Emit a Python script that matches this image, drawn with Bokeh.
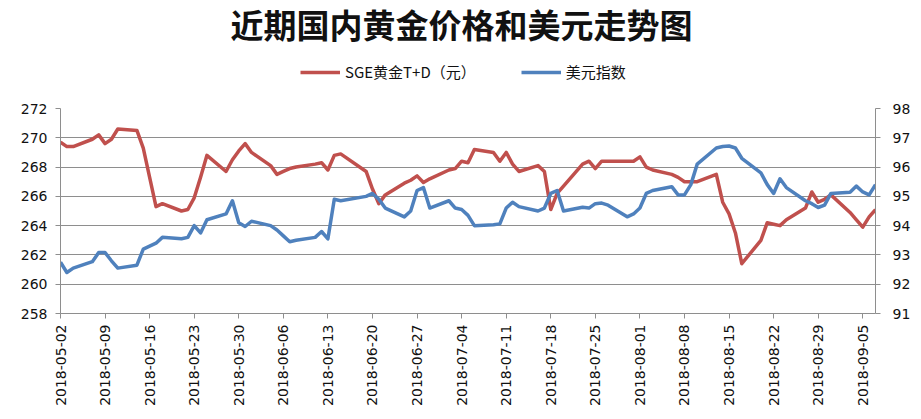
import math
import pandas as pd
from bokeh.plotting import figure
from bokeh.layouts import column
from bokeh.models import (Range1d, LinearAxis, FixedTicker, DatetimeTickFormatter,
                          Legend, LegendItem, ColumnDataSource, Label)
from bokeh.embed import file_html
from bokeh.resources import INLINE

# ---------------- data ----------------
dates = [
    "2018-05-02", "2018-05-03", "2018-05-04",
    "2018-05-07", "2018-05-08", "2018-05-09", "2018-05-10", "2018-05-11",
    "2018-05-14", "2018-05-15", "2018-05-16", "2018-05-17", "2018-05-18",
    "2018-05-21", "2018-05-22", "2018-05-23", "2018-05-24", "2018-05-25",
    "2018-05-28", "2018-05-29", "2018-05-30", "2018-05-31", "2018-06-01",
    "2018-06-04", "2018-06-05", "2018-06-06", "2018-06-07", "2018-06-08",
    "2018-06-11", "2018-06-12", "2018-06-13", "2018-06-14", "2018-06-15",
    "2018-06-19", "2018-06-20", "2018-06-21", "2018-06-22",
    "2018-06-25", "2018-06-26", "2018-06-27", "2018-06-28", "2018-06-29",
    "2018-07-02", "2018-07-03", "2018-07-04", "2018-07-05", "2018-07-06",
    "2018-07-09", "2018-07-10", "2018-07-11", "2018-07-12", "2018-07-13",
    "2018-07-16", "2018-07-17", "2018-07-18", "2018-07-19", "2018-07-20",
    "2018-07-23", "2018-07-24", "2018-07-25", "2018-07-26", "2018-07-27",
    "2018-07-30", "2018-07-31", "2018-08-01", "2018-08-02", "2018-08-03",
    "2018-08-06", "2018-08-07", "2018-08-08", "2018-08-09", "2018-08-10",
    "2018-08-13", "2018-08-14", "2018-08-15", "2018-08-16", "2018-08-17",
    "2018-08-20", "2018-08-21", "2018-08-22", "2018-08-23", "2018-08-24",
    "2018-08-27", "2018-08-28", "2018-08-29", "2018-08-30", "2018-08-31",
    "2018-09-03", "2018-09-04", "2018-09-05", "2018-09-06", "2018-09-07",
]

gold = [
    269.7, 269.4, 269.4,
    269.9, 270.2, 269.6, 269.9, 270.6,
    270.5, 269.3, 267.3, 265.3, 265.5,
    265.0, 265.1, 265.9, 267.3, 268.8,
    267.7, 268.5, 269.1, 269.6, 269.0,
    268.1, 267.5, 267.7, 267.9, 268.0,
    268.2, 268.3, 267.8, 268.8, 268.9,
    267.7, 266.5, 265.5, 266.1,
    266.9, 267.1, 267.4, 266.95, 267.2,
    267.8, 267.9, 268.4, 268.3, 269.2,
    269.0, 268.4, 269.0, 268.2, 267.7,
    268.1, 267.7, 265.1, 266.2, 266.7,
    268.2, 268.4, 267.9, 268.4, 268.4,
    268.4, 268.4, 268.7, 268.0, 267.8,
    267.5, 267.3, 267.0, 267.0, 267.0,
    267.5, 265.6, 264.8, 263.5, 261.4,
    263.0, 264.2, 264.1, 264.0, 264.4,
    265.2, 266.3, 265.6, 265.8, 266.1,
    264.9, 264.4, 263.9, 264.6, 265.1,
]

usd = [
    92.75, 92.4, 92.55,
    92.77, 93.08, 93.08, 92.8, 92.55,
    92.65, 93.2, 93.3, 93.4, 93.6,
    93.55, 93.6, 94.0, 93.75, 94.2,
    94.4, 94.85, 94.1, 93.97, 94.15,
    94.0, 93.85, 93.65, 93.45, 93.5,
    93.6, 93.8, 93.55, 94.9, 94.85,
    95.0, 95.1, 94.9, 94.6,
    94.3, 94.5, 95.2, 95.3, 94.6,
    94.85, 94.6, 94.55, 94.35, 94.0,
    94.03, 94.06, 94.6, 94.8, 94.65,
    94.5, 94.6, 95.1, 95.2, 94.5,
    94.63, 94.6, 94.75, 94.77, 94.7,
    94.3, 94.4, 94.6, 95.1, 95.2,
    95.33, 95.05, 95.05, 95.4, 96.1,
    96.65, 96.7, 96.72, 96.65, 96.3,
    95.8, 95.4, 95.1, 95.6, 95.3,
    94.85, 94.75, 94.62, 94.7, 95.1,
    95.14, 95.35, 95.15, 95.05, 95.4,
]

tick_labels = ["2018-05-02", "2018-05-09", "2018-05-16", "2018-05-23", "2018-05-30",
               "2018-06-06", "2018-06-13", "2018-06-20", "2018-06-27", "2018-07-04",
               "2018-07-11", "2018-07-18", "2018-07-25", "2018-08-01", "2018-08-08",
               "2018-08-15", "2018-08-22", "2018-08-29", "2018-09-05"]
left_ticks = [258, 260, 262, 264, 266, 268, 270, 272]
right_ticks = [91, 92, 93, 94, 95, 96, 97, 98]

title_text = "近期国内黄金价格和美元走势图"
gold_label = "SGE黄金T+D（元）"
usd_label = "美元指数"

# ---------------- styling ----------------
RED = "#C0504D"
BLUE = "#4F81BD"
GRID = "#8E8E8E"
FONT = "DejaVu Sans"
CJK = "Noto Sans CJK SC"
W = 921
HEAD_H = 98
MAIN_H = 419 - HEAD_H
NAN = float("nan")

# ---------------- header (title + legend) ----------------
head = figure(width=W, height=HEAD_H, x_range=Range1d(0, 1), y_range=Range1d(0, 1),
              output_backend="svg", toolbar_location=None,
              x_axis_location=None, y_axis_location=None, min_border=0)
head.outline_line_color = None
head.xgrid.visible = False
head.ygrid.visible = False

head.add_layout(Label(x=0.492, y=0.765, text=title_text, text_align="center",
                      text_baseline="middle", text_font=CJK, text_font_size="33px",
                      text_font_style="bold", text_color="#111111"))

# legend key proxies (no visible data of their own)
g_key = head.line(x=[NAN], y=[NAN], line_color=RED, line_width=3.5)
u_key = head.line(x=[NAN], y=[NAN], line_color=BLUE, line_width=3.5)
legend = Legend(items=[LegendItem(label=gold_label, renderers=[g_key]),
                       LegendItem(label=usd_label, renderers=[u_key])],
                orientation="horizontal", location=(240, 16),
                border_line_color=None, background_fill_alpha=0,
                label_text_font=CJK, label_text_font_size="15px",
                label_text_color="#111111",
                glyph_width=40, glyph_height=20, label_height=20,
                spacing=45, padding=0, margin=0, label_standoff=5)
head.add_layout(legend, "center")

# ---------------- main chart ----------------
src = ColumnDataSource(dict(d=pd.to_datetime(dates), gold=gold, usd=usd))

p = figure(width=W, height=MAIN_H, x_axis_type="datetime",
           x_range=Range1d(pd.Timestamp("2018-05-02"), pd.Timestamp("2018-09-07")),
           y_range=Range1d(258, 272),
           output_backend="svg", toolbar_location=None,
           min_border_left=60, min_border_right=46, min_border_top=10,
           min_border_bottom=106)
p.outline_line_color = None

p.extra_y_ranges = {"usd": Range1d(91, 98)}

p.line("d", "gold", source=src, line_color=RED, line_width=3.5, line_join="round")
p.line("d", "usd", source=src, line_color=BLUE, line_width=3.5, line_join="round",
       y_range_name="usd")

tick_ms = [pd.Timestamp(t).value / 1e6 for t in tick_labels]
p.xaxis.ticker = FixedTicker(ticks=tick_ms)
fmt = "%Y-%m-%d"
p.xaxis.formatter = DatetimeTickFormatter(days=fmt, months=fmt, years=fmt, hours=fmt,
                                          minutes=fmt, seconds=fmt, milliseconds=fmt,
                                          microseconds=fmt, minsec=fmt, hourmin=fmt)
p.xaxis.major_label_orientation = math.pi / 2
p.xgrid.visible = False

p.yaxis.ticker = FixedTicker(ticks=left_ticks)
p.ygrid.ticker = FixedTicker(ticks=left_ticks)
p.ygrid.grid_line_color = GRID
p.ygrid.grid_line_width = 1

right = LinearAxis(y_range_name="usd", ticker=FixedTicker(ticks=right_ticks))
p.add_layout(right, "right")

for ax in [p.xaxis[0], p.yaxis[0], right]:
    ax.axis_line_color = GRID
    ax.axis_line_width = 1
    ax.major_tick_line_color = GRID
    ax.major_tick_in = 0
    ax.major_tick_out = 5
    ax.minor_tick_line_color = None
    ax.major_label_text_font = FONT
    ax.major_label_text_font_size = "14px"
    ax.major_label_text_color = "#111111"
    ax.major_label_standoff = 8
p.xaxis.major_label_standoff = 6
right.major_label_standoff = 12

layout = column(head, p, spacing=0)
open("out.html", "w").write(file_html(layout, INLINE))
